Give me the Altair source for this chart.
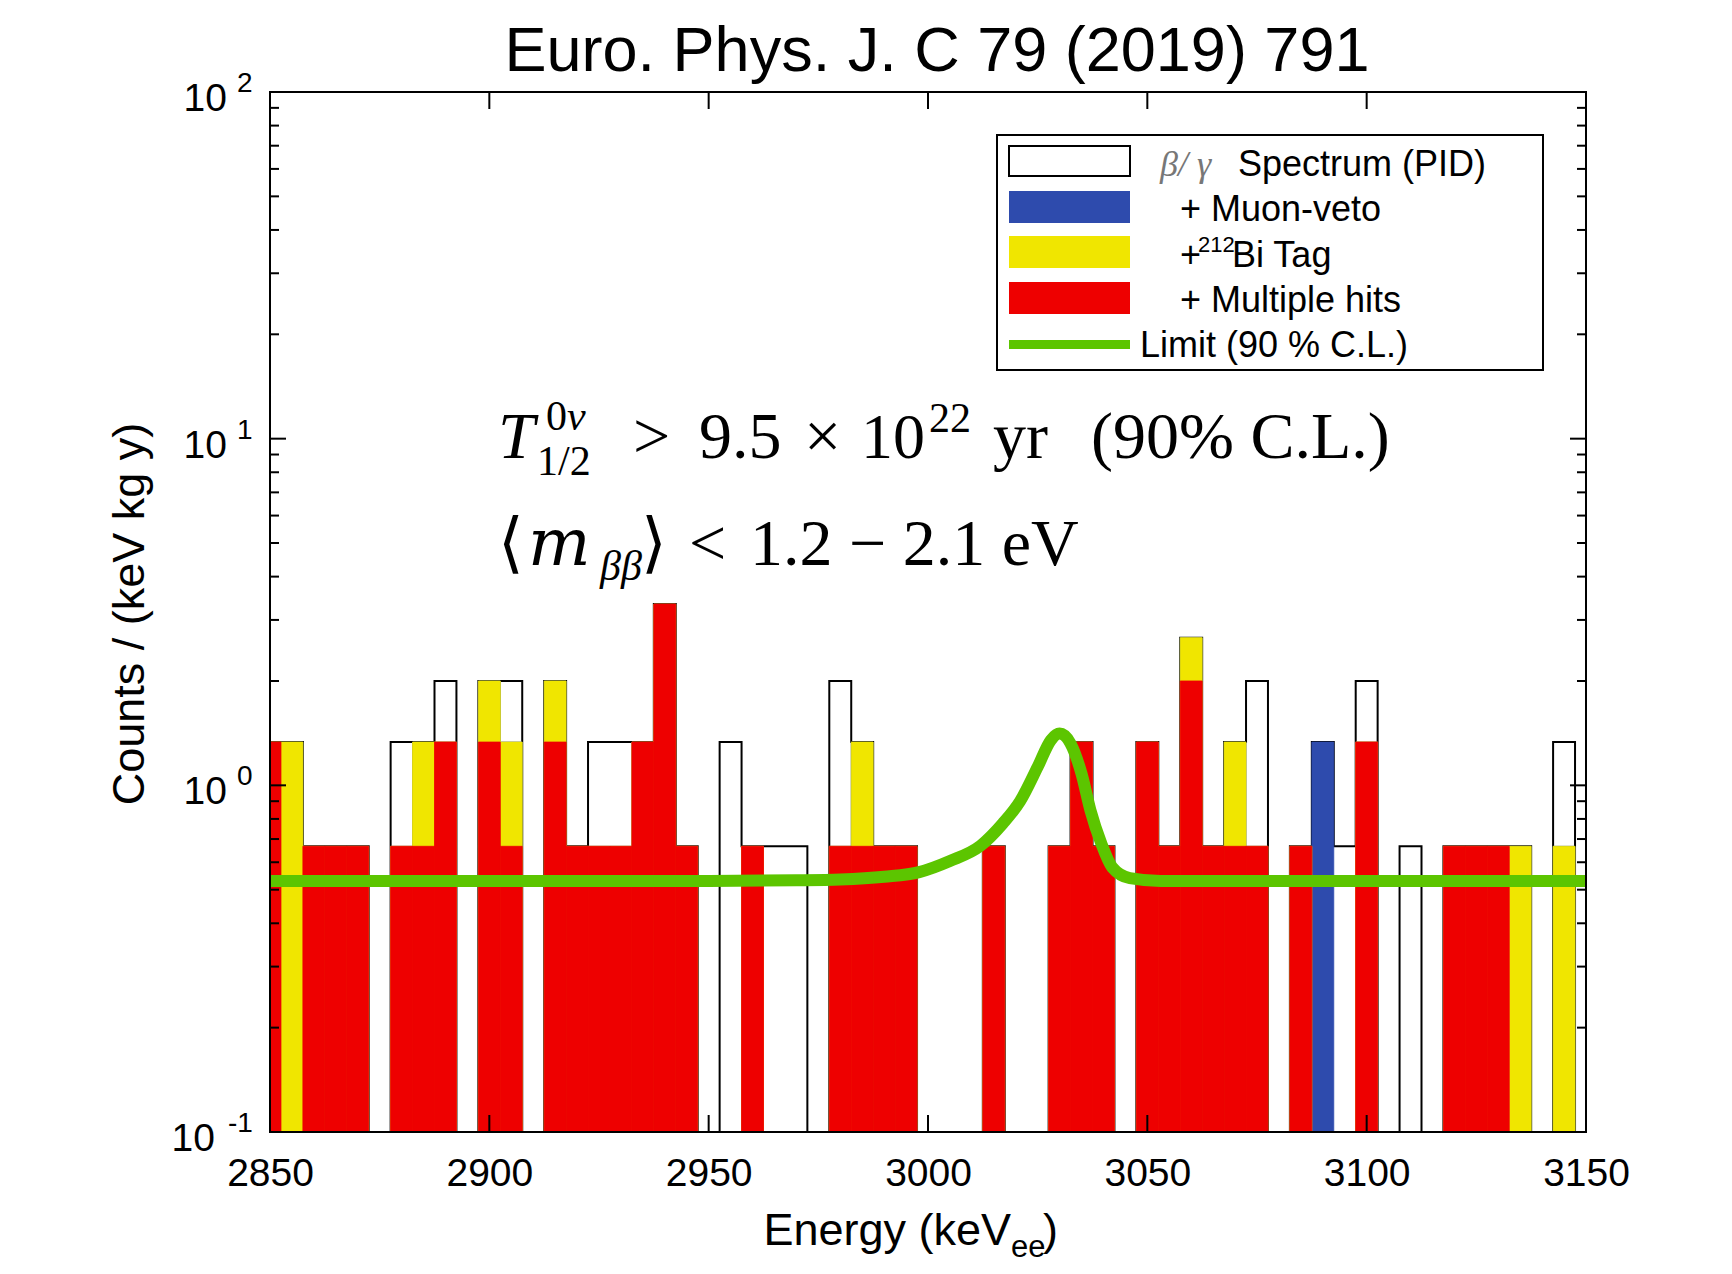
import altair as alt
import pandas as pd

# ---------------- data ----------------
# 5 keV bins, centres 2850 ... 3150 keV
BIN_CENTERS = list(range(2850, 3155, 5))
BIN_HALF = 2.5

# counts / (keV kg y) per bin for the four nested spectra
TOTAL = [1.333, 1.333, 0.667, 0.667, 0.667, 0, 1.333, 1.333, 2.0, 0,
         2.0, 2.0, 0, 2.0, 0.667, 1.333, 1.333, 1.333, 3.333, 0.667,
         0, 1.333, 0.667, 0.667, 0.667, 0, 2.0, 1.333, 0.667, 0.667,
         0, 0, 0, 0.667, 0, 0, 0.667, 1.333, 0.667, 0,
         1.333, 0.667, 2.667, 0.667, 1.333, 2.0, 0, 0.667, 1.333, 0.667,
         2.0, 0, 0.667, 0, 0.667, 0.667, 0.667, 0.667, 0, 1.333, 0]
MUON = [1.333, 1.333, 0.667, 0.667, 0.667, 0, 0.667, 1.333, 1.333, 0,
        2.0, 1.333, 0, 2.0, 0.667, 0.667, 0.667, 1.333, 3.333, 0.667,
        0, 0, 0.667, 0, 0, 0, 0.667, 1.333, 0.667, 0.667,
        0, 0, 0, 0.667, 0, 0, 0.667, 1.333, 0.667, 0,
        1.333, 0.667, 2.667, 0.667, 1.333, 0.667, 0, 0.667, 1.333, 0,
        1.333, 0, 0, 0, 0.667, 0.667, 0.667, 0.667, 0, 0.667, 0]
BI_TAG = [1.333, 1.333, 0.667, 0.667, 0.667, 0, 0.667, 1.333, 1.333, 0,
          2.0, 1.333, 0, 2.0, 0.667, 0.667, 0.667, 1.333, 3.333, 0.667,
          0, 0, 0.667, 0, 0, 0, 0.667, 1.333, 0.667, 0.667,
          0, 0, 0, 0.667, 0, 0, 0.667, 1.333, 0.667, 0,
          1.333, 0.667, 2.667, 0.667, 1.333, 0.667, 0, 0.667, 0, 0,
          1.333, 0, 0, 0, 0.667, 0.667, 0.667, 0.667, 0, 0.667, 0]
MULTI = [1.333, 0, 0.667, 0.667, 0.667, 0, 0.667, 0.667, 1.333, 0,
         1.333, 0.667, 0, 1.333, 0.667, 0.667, 0.667, 1.333, 3.333, 0.667,
         0, 0, 0.667, 0, 0, 0, 0.667, 0.667, 0.667, 0.667,
         0, 0, 0, 0.667, 0, 0, 0.667, 1.333, 0.667, 0,
         1.333, 0.667, 2.0, 0.667, 0.667, 0.667, 0, 0.667, 0, 0,
         1.333, 0, 0, 0, 0.667, 0.667, 0.667, 0, 0, 0, 0]

# 90 % C.L. limit curve
LIMIT_E = [2850, 2900, 2950, 2970, 2980, 2990, 2998, 3005, 3012, 3017, 3021,
           3025, 3028, 3030, 3032.5, 3035, 3037, 3039.5, 3042, 3046, 3053,
           3100, 3150]
LIMIT_V = [0.53, 0.53, 0.53, 0.532, 0.535, 0.545, 0.562, 0.605, 0.67, 0.775,
           0.9, 1.13, 1.35, 1.41, 1.32, 1.08, 0.85, 0.68, 0.58, 0.54, 0.53,
           0.53, 0.53]

X_TICKS = [2850, 2900, 2950, 3000, 3050, 3100, 3150]
Y_MAJOR = [0.1, 1, 10, 100]
Y_MINOR = [0.2, 0.3, 0.4, 0.5, 0.6, 0.7, 0.8, 0.9,
           2, 3, 4, 5, 6, 7, 8, 9,
           20, 30, 40, 50, 60, 70, 80, 90]
Y_EXP_POS = [1, 10, 100]
Y_EXP_POS_TXT = ["0", "1", "2"]
Y_EXP_NEG = [0.1]
Y_EXP_NEG_TXT = ["-1"]

assert len(TOTAL) == len(MUON) == len(BI_TAG) == len(MULTI) == len(BIN_CENTERS)

# ---------------- styling ----------------
W, H = 1316, 1040
RED, YELLOW, BLUE, GREEN = "#EE0000", "#F0E600", "#2E4BAD", "#5CC500"
SANS = "Liberation Sans"
SERIF = "Liberation Serif, DejaVu Serif"
FLOOR = 0.1

xs = alt.Scale(domain=[2850, 3150], nice=False, zero=False)
ys = alt.Scale(type="log", domain=[0.1, 100], nice=False)
X_AXIS = alt.Axis(values=X_TICKS, labelFontSize=39, labelFont=SANS,
                  labelColor="black", ticks=False, domain=False, grid=False,
                  labelPadding=22, title=None, labelFlush=False, format="d")


def hist_frame(values):
    rows = []
    for c, v in zip(BIN_CENTERS, values):
        if v > 0:
            rows.append({"start": c - BIN_HALF, "end": c + BIN_HALF,
                         "v": v, "base": FLOOR})
    return pd.DataFrame(rows)


def hist_layer(values, color):
    return alt.Chart(hist_frame(values)).mark_rect(
        color=color, stroke=color, strokeWidth=0.8, clip=True
    ).encode(
        x=alt.X("start:Q", scale=xs, axis=X_AXIS),
        x2="end:Q",
        y=alt.Y("v:Q", scale=ys, axis=None),
        y2="base:Q",
    )


# outline (step) of the full PID spectrum
step_rows = [{"e": c - BIN_HALF, "v": max(v, FLOOR)} for c, v in zip(BIN_CENTERS, TOTAL)]
step_rows.append({"e": BIN_CENTERS[-1] + BIN_HALF, "v": max(TOTAL[-1], FLOOR)})
outline = alt.Chart(pd.DataFrame(step_rows)).mark_line(
    interpolate="step-after", color="black", strokeWidth=2, clip=True
).encode(
    x=alt.X("e:Q", scale=xs, axis=X_AXIS),
    y=alt.Y("v:Q", scale=ys, axis=None),
)

limit = alt.Chart(pd.DataFrame({"e": LIMIT_E, "v": LIMIT_V})).mark_line(
    color=GREEN, strokeWidth=12, interpolate="monotone", clip=True
).encode(
    x=alt.X("e:Q", scale=xs, axis=X_AXIS),
    y=alt.Y("v:Q", scale=ys, axis=None),
)

# ---------------- ticks (inward, on all four sides) ----------------
xt = pd.DataFrame({"e": X_TICKS})
xtick_b = alt.Chart(xt).mark_rule(color="black", strokeWidth=2).encode(
    x=alt.X("e:Q", scale=xs, axis=X_AXIS), y=alt.value(H), y2=alt.value(H - 17))
xtick_t = alt.Chart(xt).mark_rule(color="black", strokeWidth=2).encode(
    x=alt.X("e:Q", scale=xs, axis=X_AXIS), y=alt.value(0), y2=alt.value(17))


def ytick(vals, x0, x1):
    return alt.Chart(pd.DataFrame({"v": vals})).mark_rule(color="black", strokeWidth=2).encode(
        y=alt.Y("v:Q", scale=ys, axis=None), x=alt.value(x0), x2=alt.value(x1))


yticks = [ytick(Y_MAJOR, 0, 16), ytick(Y_MAJOR, W - 16, W),
          ytick(Y_MINOR, 0, 9), ytick(Y_MINOR, W - 9, W)]

# ---------------- y tick labels 10^n ----------------
def ylab(vals, exps, x_ten, x_exp):
    df = pd.DataFrame({"v": vals, "exp": exps})
    ten = alt.Chart(df).mark_text(text="10", font=SANS, fontSize=39, align="right",
                                  baseline="middle", dy=7, color="black").encode(
        y=alt.Y("v:Q", scale=ys, axis=None), x=alt.value(x_ten))
    ex = alt.Chart(df).mark_text(font=SANS, fontSize=28, align="left",
                                 baseline="middle", dy=-8, color="black").encode(
        y=alt.Y("v:Q", scale=ys, axis=None), x=alt.value(x_exp), text="exp:N")
    return [ten, ex]


ylabels = ylab(Y_EXP_POS, Y_EXP_POS_TXT, -43, -33) + ylab(Y_EXP_NEG, Y_EXP_NEG_TXT, -55, -42)

# ---------------- free text ----------------
DUMMY = pd.DataFrame({"a": [0]})


def txt(s, x, y, size, font=SANS, style="normal", color="black", align="left",
        baseline="alphabetic", angle=0):
    return alt.Chart(DUMMY).mark_text(
        text=s, font=font, fontSize=size, fontStyle=style, color=color,
        align=align, baseline=baseline, angle=angle
    ).encode(x=alt.value(x), y=alt.value(y))


texts = [
    # title
    txt("Euro. Phys. J. C 79 (2019) 791", 667, -21, 63, align="center"),
    # axis titles
    txt("Counts / (keV kg y)", -140, 522, 45, align="center", baseline="middle", angle=270),
    txt("Energy (keV", 741, 1153, 45, align="right"),
    txt("ee", 741, 1165, 31),
    txt(")", 773, 1153, 45),
    # annotation line 1
    txt("T", 228, 366, 66, font=SERIF, style="italic"),
    txt("0", 276, 338, 42, font=SERIF),
    txt("ν", 297, 338, 42, font=SERIF, style="italic"),
    txt("1/2", 267, 383, 42, font=SERIF),
    txt(">", 363, 366, 66, font=SERIF),
    txt("9.5", 429, 366, 66, font=SERIF),
    txt("×", 534, 366, 66, font=SERIF),
    txt("10", 591, 366, 64, font=SERIF),
    txt("22", 659, 340, 42, font=SERIF),
    txt("yr", 723, 366, 66, font=SERIF),
    txt("(90% C.L.)", 821, 366, 66, font=SERIF),
    # annotation line 2
    txt("⟨", 228, 473, 66, font=SERIF),
    txt("m", 258, 473, 66, font="DejaVu Serif", style="italic"),
    txt("ββ", 330, 488, 42, font=SERIF, style="italic"),
    txt("⟩", 371, 473, 66, font=SERIF),
    txt("<", 419, 473, 66, font=SERIF),
    txt("1.2 − 2.1 eV", 480, 473, 66, font=SERIF),
]

# ---------------- legend ----------------
def box(x0, x1, y0, y1, fill, stroke=None, sw=0):
    kw = {"fill": fill}
    if stroke:
        kw.update(stroke=stroke, strokeWidth=sw)
    return alt.Chart(DUMMY).mark_rect(**kw).encode(
        x=alt.value(x0), x2=alt.value(x1), y=alt.value(y0), y2=alt.value(y1))


legend = [
    box(727, 1273, 43, 278, "white", "black", 2),
    box(739, 860, 54, 84, "white", "black", 2),
    box(739, 860, 99, 131, BLUE),
    box(739, 860, 144, 176, YELLOW),
    box(739, 860, 190, 222, RED),
    box(739, 860, 248, 257, GREEN),
    txt("β/ γ", 890, 73, 36, font=SERIF, style="italic", color="#777777", baseline="middle"),
    txt("Spectrum (PID)", 968, 73, 36, baseline="middle"),
    txt("+ Muon-veto", 910, 118, 36, baseline="middle"),
    txt("+", 910, 164, 36, baseline="middle"),
    txt("212", 928, 153, 22, baseline="middle"),
    txt("Bi Tag", 962, 164, 36, baseline="middle"),
    txt("+ Multiple hits", 910, 209, 36, baseline="middle"),
    txt("Limit (90 % C.L.)", 870, 254, 36, baseline="middle"),
]

frame = alt.Chart(DUMMY).mark_rect(filled=False, stroke="black", strokeWidth=2).encode(
    x=alt.value(0), x2=alt.value(W), y=alt.value(0), y2=alt.value(H))

layers = ([outline,
           hist_layer(MUON, BLUE),
           hist_layer(BI_TAG, YELLOW),
           hist_layer(MULTI, RED),
           limit,
           xtick_b, xtick_t] + yticks + [frame] + ylabels + texts + legend)

chart = alt.layer(*layers).properties(
    width=W, height=H,
    padding={"left": 270, "top": 92, "right": 146, "bottom": 142},
    autosize=alt.AutoSizeParams(type="none"),
).configure_view(stroke="black", strokeWidth=2).configure(background="white")

chart.save("out.html", embed_options={"renderer": "svg", "actions": False})
